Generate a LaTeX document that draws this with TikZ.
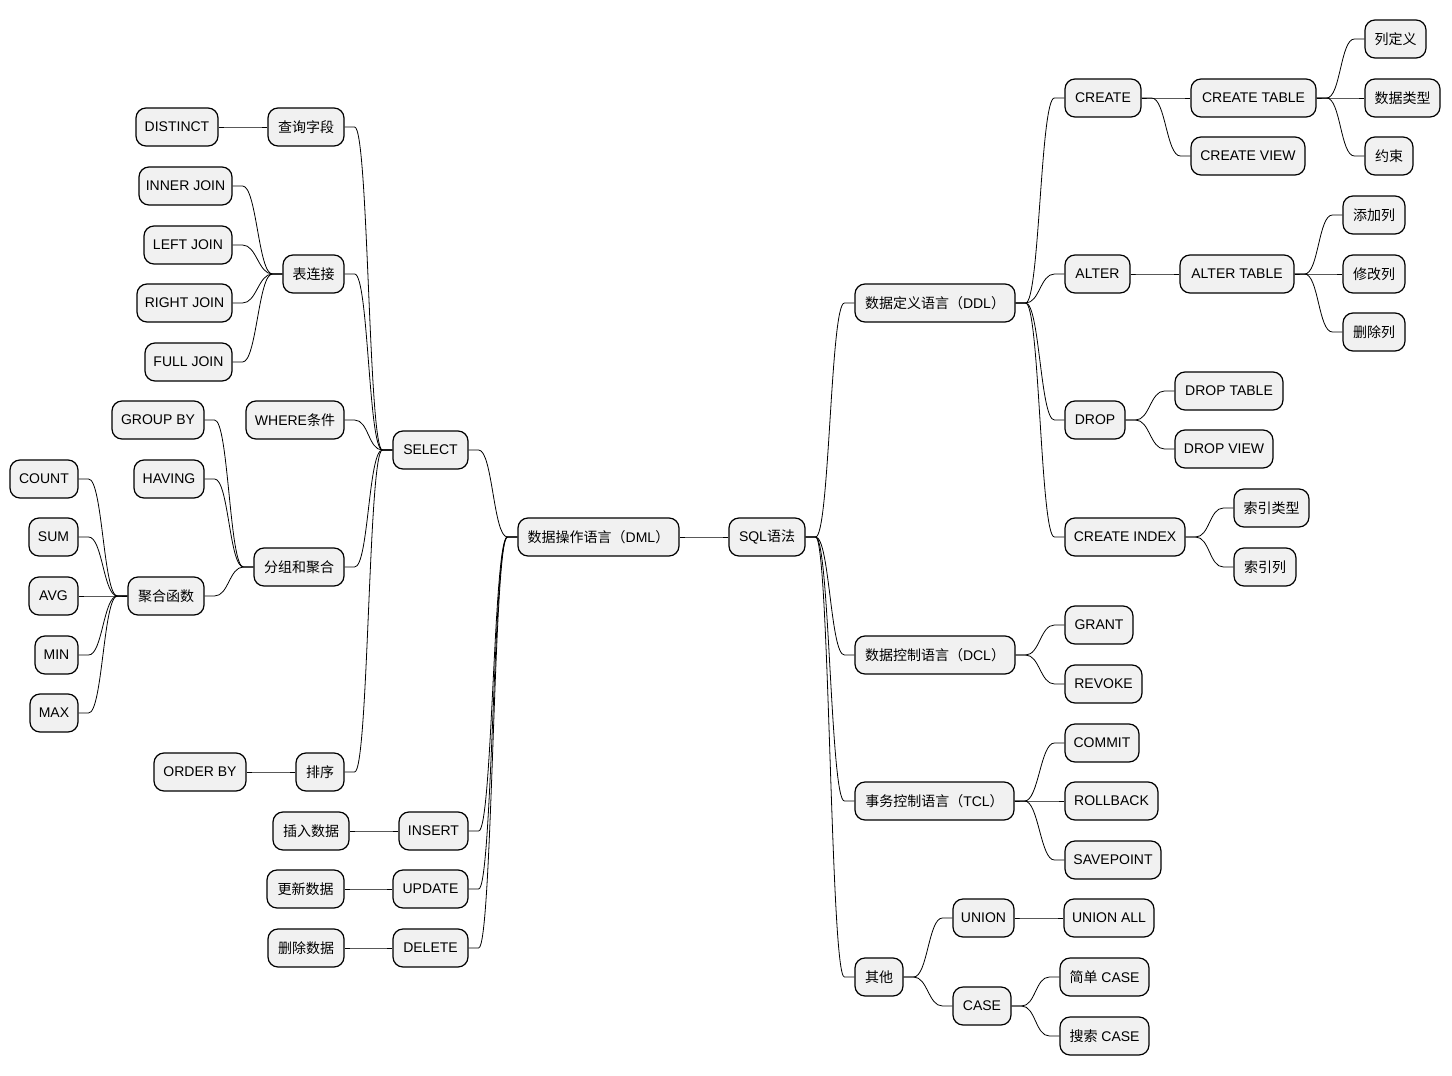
\documentclass[tikz,border=0pt]{standalone}
\usepackage{fontspec}
\setmainfont{Liberation Sans}
\newfontfamily\cjk{Noto Sans CJK SC}
\usepackage{tikz}

\begin{document}
\begin{tikzpicture}[x=1pt,y=-1pt,
		mm/.style={draw=black,line width=1.2pt,fill=black!5.5,rounded corners=10pt,minimum height=38pt,inner xsep=2pt,font=\fontsize{14}{16}\selectfont},
		rbranch/.style={line width=0.8pt,to path={(\tikztostart.east) -- ++(10pt,0) .. controls +(14pt,0) and +(-14pt,0) .. ([xshift=-10pt]\tikztotarget.west) -- (\tikztotarget.west)}},
		lbranch/.style={line width=0.8pt,to path={(\tikztostart.west) -- ++(-10pt,0) .. controls +(-14pt,0) and +(14pt,0) .. ([xshift=10pt]\tikztotarget.east) -- (\tikztotarget.east)}}]
			\useasboundingbox (0,0) rectangle (1452,1076);
			\draw (767,537) node [mm,minimum width=76pt] (sql) {SQL{\cjk 语法}};
			% left half
			\draw (598.5,537) node [mm,minimum width=161pt] (dml) {{\cjk 数据操作语言（}DML{\cjk ）}};
			\draw (430.5,450) node [mm,minimum width=75pt] (select) {SELECT};
			\draw (433.5,831) node [mm,minimum width=69pt] (insert) {INSERT};
			\draw (430.5,889) node [mm,minimum width=75pt] (update) {UPDATE};
			\draw (430.5,948) node [mm,minimum width=75pt] (delete) {DELETE};
			\draw (306,127) node [mm,minimum width=76pt] (fields) {\cjk 查询字段};
			\draw (313.5,274) node [mm,minimum width=61pt] (joins) {\cjk 表连接};
			\draw (295,420) node [mm,minimum width=98pt] (where) {WHERE{\cjk 条件}};
			\draw (299,567) node [mm,minimum width=90pt] (group) {\cjk 分组和聚合};
			\draw (320,772) node [mm,minimum width=48pt] (sort) {\cjk 排序};
			\draw (177,127) node [mm,minimum width=82pt] (distinct) {DISTINCT};
			\draw (185.5,186) node [mm,minimum width=93pt] (inner) {INNER JOIN};
			\draw (188,245) node [mm,minimum width=88pt] (leftj) {LEFT JOIN};
			\draw (184.5,303) node [mm,minimum width=95pt] (rightj) {RIGHT JOIN};
			\draw (188.5,362) node [mm,minimum width=87pt] (fullj) {FULL JOIN};
			\draw (158,420) node [mm,minimum width=92pt] (groupby) {GROUP BY};
			\draw (169,479) node [mm,minimum width=70pt] (having) {HAVING};
			\draw (166,596) node [mm,minimum width=76pt] (aggr) {\cjk 聚合函数};
			\draw (44,479) node [mm,minimum width=68pt] (count) {COUNT};
			\draw (53.5,537) node [mm,minimum width=49pt] (sum) {SUM};
			\draw (53.5,596) node [mm,minimum width=49pt] (avg) {AVG};
			\draw (56.5,655) node [mm,minimum width=43pt] (min) {MIN};
			\draw (54,713) node [mm,minimum width=48pt] (max) {MAX};
			\draw (200,772) node [mm,minimum width=92pt] (orderby) {ORDER BY};
			\draw (311,831) node [mm,minimum width=76pt] (ins) {\cjk 插入数据};
			\draw (305.5,889) node [mm,minimum width=77pt] (upd) {\cjk 更新数据};
			\draw (306,948) node [mm,minimum width=76pt] (del) {\cjk 删除数据};
			% right half
			\draw (935,303) node [mm,minimum width=160pt] (ddl) {{\cjk 数据定义语言（}DDL{\cjk ）}};
			\draw (1103,98) node [mm,minimum width=76pt] (create) {CREATE};
			\draw (1253.5,98) node [mm,minimum width=125pt] (ctable) {CREATE TABLE};
			\draw (1395.5,39) node [mm,minimum width=61pt] (coldef) {\cjk 列定义};
			\draw (1402.5,98) node [mm,minimum width=75pt] (dtype) {\cjk 数据类型};
			\draw (1389,156) node [mm,minimum width=48pt] (constr) {\cjk 约束};
			\draw (1248,156) node [mm,minimum width=114pt] (cview) {CREATE VIEW};
			\draw (1097.5,274) node [mm,minimum width=65pt] (alter) {ALTER};
			\draw (1237,274) node [mm,minimum width=114pt] (atable) {ALTER TABLE};
			\draw (1374,215) node [mm,minimum width=62pt] (addcol) {\cjk 添加列};
			\draw (1374,274) node [mm,minimum width=62pt] (modcol) {\cjk 修改列};
			\draw (1374,332) node [mm,minimum width=62pt] (delcol) {\cjk 删除列};
			\draw (1095,420) node [mm,minimum width=60pt] (drop) {DROP};
			\draw (1229,391) node [mm,minimum width=108pt] (dtable) {DROP TABLE};
			\draw (1224,449) node [mm,minimum width=98pt] (dview) {DROP VIEW};
			\draw (1125,537) node [mm,minimum width=120pt] (cindex) {CREATE INDEX};
			\draw (1271.5,508) node [mm,minimum width=75pt] (itype) {\cjk 索引类型};
			\draw (1265,567) node [mm,minimum width=62pt] (icol) {\cjk 索引列};
			\draw (935,655) node [mm,minimum width=160pt] (dcl) {{\cjk 数据控制语言（}DCL{\cjk ）}};
			\draw (1099,625) node [mm,minimum width=68pt] (grant) {GRANT};
			\draw (1103.5,684) node [mm,minimum width=77pt] (revoke) {REVOKE};
			\draw (934.5,801) node [mm,minimum width=159pt] (tcl) {{\cjk 事务控制语言（}TCL{\cjk ）}};
			\draw (1102,743) node [mm,minimum width=74pt] (commit) {COMMIT};
			\draw (1111.5,801) node [mm,minimum width=93pt] (rollback) {ROLLBACK};
			\draw (1113,860) node [mm,minimum width=96pt] (savepoint) {SAVEPOINT};
			\draw (879,977) node [mm,minimum width=48pt] (other) {\cjk 其他};
			\draw (983.5,918) node [mm,minimum width=61pt] (union) {UNION};
			\draw (1109,918) node [mm,minimum width=90pt] (unionall) {UNION ALL};
			\draw (982,1006) node [mm,minimum width=58pt] (case) {CASE};
			\draw (1104.5,977) node [mm,minimum width=89pt] (simple) {{\cjk 简单} CASE};
			\draw (1104.5,1036) node [mm,minimum width=89pt] (search) {{\cjk 搜索} CASE};
			\path[lbranch]
				(sql) edge (dml)
				(dml) edge (select)
					edge (insert)
					edge (update)
					edge (delete)
				(select) edge (fields)
					edge (joins)
					edge (where)
					edge (group)
					edge (sort)
				(fields) edge (distinct)
				(joins) edge (inner)
					edge (leftj)
					edge (rightj)
					edge (fullj)
				(group) edge (groupby)
					edge (having)
					edge (aggr)
				(aggr) edge (count)
					edge (sum)
					edge (avg)
					edge (min)
					edge (max)
				(sort) edge (orderby)
				(insert) edge (ins)
				(update) edge (upd)
				(delete) edge (del);
			\path[rbranch]
				(sql) edge (ddl)
					edge (dcl)
					edge (tcl)
					edge (other)
				(ddl) edge (create)
					edge (alter)
					edge (drop)
					edge (cindex)
				(create) edge (ctable)
					edge (cview)
				(ctable) edge (coldef)
					edge (dtype)
					edge (constr)
				(alter) edge (atable)
				(atable) edge (addcol)
					edge (modcol)
					edge (delcol)
				(drop) edge (dtable)
					edge (dview)
				(cindex) edge (itype)
					edge (icol)
				(dcl) edge (grant)
					edge (revoke)
				(tcl) edge (commit)
					edge (rollback)
					edge (savepoint)
				(other) edge (union)
					edge (case)
				(union) edge (unionall)
				(case) edge (simple)
					edge (search);
		\end{tikzpicture}
\end{document}
